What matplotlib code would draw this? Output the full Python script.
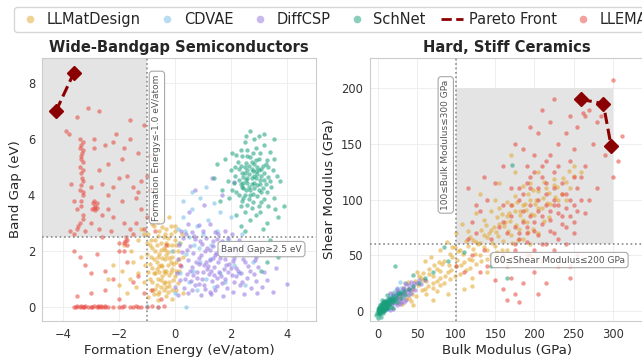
import matplotlib
matplotlib.use("Agg")
import matplotlib.pyplot as plt
from matplotlib.lines import Line2D
import numpy as np

# ---------------- data ----------------
series = ["LLMatDesign", "CDVAE", "DiffCSP", "SchNet", "LLEMA"]
colors = {"LLMatDesign": "#E2A62A", "CDVAE": "#72BDE8", "DiffCSP": "#9373DF",
          "SchNet": "#17A07A", "LLEMA": "#E8453C"}
pareto_color = "#8B0000"

# Left panel: (formation energy eV/atom, band gap eV)
gap_llmatdesign = [(-0.95,2.6),(-0.9,2.2),(-0.85,1.8),(-0.8,1.4),(-0.9,1.0),(-0.85,0.6),(-0.75,2.9),(-0.7,2.4),
    (-0.7,2.0),(-0.65,1.6),(-0.7,1.2),(-0.65,0.8),(-0.6,0.45),(-0.55,2.7),(-0.5,2.3),(-0.55,1.9),(-0.5,1.5),
    (-0.45,1.1),(-0.5,0.7),(-0.4,2.5),(-0.4,2.1),(-0.35,1.7),(-0.4,1.3),(-0.35,0.9),(-0.3,2.8),(-0.3,2.3),
    (-0.25,1.95),(-0.25,1.5),(-0.2,1.15),(-0.2,0.75),(-0.15,2.6),(-0.1,2.2),(-0.1,1.8),(-0.1,1.35),(-0.05,0.95),
    (0.0,2.9),(0.0,2.4),(0.05,1.6),(0.0,1.1),(0.05,0.6),(0.1,2.0),(0.15,1.3),(-0.6,3.05),(-0.45,3.1),(-0.2,3.2),
    (-0.8,2.95),(-1.0,2.3),(-1.05,1.5),(-1.1,0.9),(-1.2,1.8),(-1.3,1.2),(-1.4,0.7),(-1.5,1.6),(-1.6,1.0),
    (-1.7,0.5),(-1.9,1.3),(-2.0,0.8),(-2.2,1.5),(-1.3,2.4),(-1.2,2.8),(-0.95,0.35),(-0.6,0.25),(-0.3,0.4),
    (-0.1,0.3),(0.3,0.5),(0.25,2.6),(0.3,1.8),(-0.55,1.25),(-0.45,1.75),(-0.65,2.2),(-0.35,2.05),(-0.25,2.45),
    (-0.75,1.7),(-0.15,1.6),(-0.3,1.3),(-0.6,1.0),(-0.4,0.6),(-0.8,0.9),(-0.2,0.9),(-0.05,2.0),(-1.8,2.2),
    (-1.55,2.0),(-2.4,1.0),(-1.1,2.6),
    (-0.85,2.4),(-0.8,2.1),(-0.75,1.2),(-0.7,0.65),(-0.6,2.55),(-0.6,1.8),(-0.55,1.45),(-0.5,0.95),(-0.45,2.85),
    (-0.45,1.45),(-0.4,0.85),(-0.35,2.6),(-0.35,1.2),(-0.3,1.85),(-0.3,0.7),(-0.25,2.2),(-0.2,1.75),(-0.15,1.25),
    (-0.15,2.9),(-0.1,0.6),(-0.05,1.55),(0.0,2.7),(0.05,2.2),(0.05,1.3),(0.1,0.85),(-0.65,1.35),(-0.5,2.05),
    (-0.9,1.55),(-0.95,1.25),(-1.0,1.9),(-0.75,0.45),(-0.55,0.55),(-0.25,0.55),(0.15,1.7),(0.2,2.3)]
gap_cdvae = [(0.1,2.8),(0.3,3.2),(0.5,2.5),(0.6,3.5),(0.8,2.9),(0.4,1.9),(0.7,2.2),(1.0,2.6),(1.2,3.1),
    (0.9,1.6),(1.3,2.2),(1.5,2.7),(1.7,1.9),(1.9,2.4),(2.1,1.5),(0.2,1.2),(0.5,0.9),(0.8,0.6),(1.1,1.0),
    (1.4,0.7),(1.8,0.9),(2.3,1.2),(2.5,0.8),(0.0,0.5),(-0.1,2.0),(0.3,3.8),(0.9,3.9),(1.6,3.4),(2.0,3.2),
    (2.4,2.6),(-1.0,0.05),(-0.6,0.0),(0.4,0.0),(0.6,4.1),(1.1,4.3),(1.4,3.7),(2.6,2.0),(2.8,1.6),(0.15,2.3),
    (0.65,1.3),(1.25,1.7),(1.6,1.2),(2.0,2.0),(0.35,2.7),(0.85,2.1)]
gap_diffcsp = [(0.12,0.42),(0.48,0.5),(0.93,0.44),(1.31,0.47),(1.72,0.41),(2.08,0.52),(2.47,0.46),(2.93,0.49),
    (0.02,0.73),(0.34,0.68),(0.71,0.77),(1.08,0.66),(1.52,0.74),(1.87,0.69),(2.33,0.78),(2.71,0.67),(3.12,0.72),
    (0.18,0.97),(0.57,0.92),(0.96,1.01),(1.33,0.93),(1.78,0.99),(2.12,0.91),(2.58,1.02),(2.91,0.94),(3.28,0.98),
    (0.07,1.22),(0.43,1.17),(0.79,1.25),(1.22,1.19),(1.58,1.24),(2.03,1.16),(2.38,1.23),(2.82,1.18),(3.18,1.26),
    (0.23,1.47),(0.62,1.42),(1.03,1.5),(1.41,1.43),(1.83,1.49),(2.18,1.41),(2.63,1.48),(2.97,1.44),
    (0.11,1.72),(0.47,1.67),(0.88,1.74),(1.27,1.69),(1.63,1.75),(2.07,1.66),(2.43,1.73),(2.87,1.68),
    (0.27,1.96),(0.66,1.92),(1.07,1.99),(1.46,1.93),(1.86,1.98),(2.23,1.91),(2.62,1.97),
    (0.16,2.22),(0.53,2.17),(0.97,2.24),(1.36,2.18),(1.77,2.23),(2.13,2.16),(2.52,2.21),
    (0.31,2.46),(0.72,2.42),(1.12,2.48),(1.52,2.43),(1.92,2.47),(2.28,2.41),
    (0.22,2.71),(0.63,2.67),(1.02,2.73),(1.43,2.68),(1.81,2.72),(0.46,2.96),(0.87,2.92),(1.26,2.98),
    (0.52,3.38),(1.04,3.66),(1.68,4.02),(2.12,4.48),(1.33,4.61),(0.73,4.18),(3.52,0.52),(4.02,0.83),
    (3.61,1.38),(1.15,1.35),(1.45,1.85),(0.85,1.55),(1.65,1.1),(1.95,1.55),(1.25,2.05),(0.65,1.15),(2.25,1.3),
    (0.35,1.0),(0.55,1.3),(0.75,1.6),(0.95,1.85),(1.15,2.1),(1.35,2.35),(1.55,2.6),(0.45,2.05),(0.7,2.55),
    (0.9,2.35),(1.1,1.6),(1.3,1.3),(1.5,1.05),(1.7,0.85),(1.9,1.25),(2.1,1.75),(2.3,2.05),(2.5,1.6),(2.7,1.3),
    (2.9,1.8),(1.05,0.8),(1.25,0.55),(1.45,0.62),(0.85,0.82),(0.6,0.6),(1.6,2.05),(1.8,1.7),(2.0,1.4),(2.2,1.1),
    (2.4,0.9),(1.4,1.15),(1.2,1.45),(1.0,1.25),(0.8,1.05),(1.55,1.6),(1.75,1.35),(1.35,1.75),(1.7,2.35),
    (2.05,2.6),(0.4,2.6)]
gap_schnet = [(2.2,4.1),(2.35,4.4),(2.5,4.0),(2.65,4.3),(2.8,4.05),(2.95,4.35),(3.1,4.1),(3.25,4.4),
    (2.15,4.7),(2.3,4.95),(2.45,4.65),(2.6,4.9),(2.75,4.6),(2.9,4.85),(3.05,4.55),(3.2,4.8),(3.35,4.65),
    (2.25,5.2),(2.4,5.4),(2.55,5.15),(2.7,5.35),(2.85,5.1),(3.0,5.3),(3.15,5.05),(3.3,5.25),
    (2.4,3.8),(2.6,3.65),(2.8,3.75),(3.0,3.6),(3.2,3.85),(2.5,3.4),(2.9,3.3),(2.7,3.1),
    (1.9,4.5),(2.0,4.9),(2.05,4.2),(3.45,4.3),(3.5,4.9),(3.55,3.9),(3.6,3.5),(2.6,5.6),(2.9,5.7),(2.5,5.9),
    (3.2,5.8),(3.4,5.55),(3.0,6.1),(2.7,6.3),(3.55,6.0),(1.8,5.3),(1.7,4.2),(1.6,3.8),(2.2,3.3),(3.7,3.2),
    (3.3,3.0),(2.5,2.7),(3.15,2.8),(3.75,4.5),(3.4,2.4),(3.9,3.6),(3.6,2.1),(3.3,1.6),(3.1,1.3),(3.7,1.8),
    (2.35,2.9),(1.4,4.6),(1.5,5.1),(2.45,4.25),(2.85,4.45),(2.65,4.75),(2.95,5.0),(2.55,4.55),(3.1,4.7),
    (2.75,4.95),(2.7,4.2),(3.0,4.2),(2.4,4.8),
    (2.3,4.55),(2.45,4.45),(2.6,4.6),(2.75,4.4),(2.9,4.6),(3.05,4.4),(3.2,4.55),(2.35,5.05),(2.5,5.0),
    (2.65,5.05),(2.8,4.85),(2.95,4.75),(3.1,4.95),(3.25,5.1),(2.4,4.3),(2.55,4.2),(2.7,4.0),(2.85,4.25),
    (3.15,4.25),(3.3,4.1),(2.3,4.0),(2.45,3.9),(2.65,3.85),(2.95,3.95),(3.1,3.75),(2.6,5.4),(2.8,5.5),
    (3.05,5.5),(2.35,5.6),(2.2,5.45),(3.35,5.0),(3.4,4.5),(2.1,4.45),(2.15,5.0),(2.75,5.2),(2.9,5.25),
    (2.5,4.8),(2.85,4.7),(3.0,4.9),(2.6,4.45),(2.75,3.55),(3.05,3.4),(2.35,3.6),(3.35,3.6),(1.95,3.9),
    (3.55,5.3),(3.65,4.7),(2.05,5.5),(3.2,6.2),(2.55,6.1),(2.85,6.0)]
gap_llema = [(-3.6,0.0),(-3.5,0.02),(-3.4,0.0),(-3.35,0.03),(-3.3,0.0),(-3.2,0.02),(-3.1,0.0),(-3.0,0.0),
    (-2.9,0.03),(-2.8,0.0),(-2.75,0.02),(-2.7,0.0),(-2.6,0.0),(-2.5,0.02),(-2.4,0.0),(-2.2,0.0),(-2.0,0.0),
    (-1.8,0.02),(-1.6,0.0),(-1.5,0.0),(-1.4,0.02),(-1.3,0.0),(-1.2,0.0),(-0.6,0.0),(-0.4,0.05),
    (-3.9,6.3),(-3.8,6.2),(-3.5,6.8),(-3.1,7.1),(-2.7,7.0),(-1.6,6.7),(-1.1,6.5),(-3.4,6.0),(-3.35,5.8),
    (-3.3,5.6),(-3.35,5.4),(-3.3,5.2),(-3.4,5.0),(-3.35,4.8),(-3.3,4.5),(-3.4,4.2),(-3.3,4.0),(-3.35,3.8),
    (-3.5,3.5),(-3.3,3.3),(-3.4,3.0),(-3.5,2.8),(-2.9,6.0),(-2.9,5.7),(-2.5,5.8),(-2.2,5.9),(-1.8,5.7),
    (-2.9,3.8),(-2.85,3.6),(-2.95,3.5),(-2.8,3.7),(-3.0,4.3),(-2.6,4.4),(-2.4,4.0),(-2.0,4.6),(-1.7,4.7),
    (-1.5,4.3),(-1.2,4.5),(-1.0,4.7),(-0.9,4.2),(-2.2,3.2),(-1.8,3.0),(-1.6,2.8),(-1.5,2.6),(-1.2,3.5),
    (-1.0,3.2),(-3.7,4.4),(-3.6,3.8),(-3.75,2.7),(-3.6,2.0),(-3.4,1.8),(-3.2,1.5),(-3.0,1.2),(-2.8,1.9),
    (-2.5,1.3),(-2.2,1.0),(-2.0,2.3),(-1.8,2.0),(-1.7,1.6),(-1.5,0.9),(-1.3,1.1),(-1.1,0.5),(-0.8,0.6),
    (-0.5,0.3),(-3.5,0.4),(-3.0,0.5),(-2.5,0.6),(-2.0,0.3),(-2.3,2.7),(-2.6,2.5),(-1.9,3.8),(-1.4,3.9),
    (-2.7,4.9),(-2.4,5.1),(-1.9,5.3),(-1.3,5.5),(-0.9,5.4),(-1.6,6.0),(-2.1,6.2),(-0.8,3.5),(-0.7,2.7),
    (-0.3,2.2),(0.2,1.5),(-2.6,3.3),(-2.0,2.0),(-1.7,2.4),(-1.75,2.5),(-1.8,2.3),
    (-3.3,5.9),(-3.38,5.7),(-3.32,5.5),(-3.36,5.3),(-3.28,4.9),(-3.33,4.6),(-3.37,4.35),(-3.3,4.1),
    (-3.35,3.6),(-3.28,3.15),(-3.45,2.9),(-2.88,3.55),(-2.92,3.7),(-2.85,3.45),(-2.8,3.55),(-1.78,2.35),
    (-1.72,2.2),(-3.6,2.6),(-3.2,2.7),(-3.0,3.0),(-2.7,2.8),(-2.4,3.5),(-2.2,4.3),(-1.4,3.0),(-1.1,2.8),
    (-1.3,4.1),(-2.5,0.0),(-3.55,0.0),(-3.25,0.0),(-2.95,0.0),(-2.65,0.02),(-1.9,0.0),(-1.0,0.0),(-0.8,0.02)]
gap_pareto_x = [-4.25, -3.62]
gap_pareto_y = [7.0, 8.35]

# Right panel: (bulk modulus GPa, shear modulus GPa)
mod_llmatdesign = [(15,5),(21,11),(26,7),(31,15),(36,11),(41,19),(44,15),(51,23),(56,19),(61,27),(64,22),
    (71,31),(76,27),(79,36),(86,31),(91,41),(94,37),(101,46),(106,41),(109,51),(116,47),(121,56),(124,51),
    (131,61),(136,57),(139,66),(146,61),(151,71),(154,67),(161,76),(166,72),(169,81),(176,77),(181,86),
    (186,82),(189,91),(196,87),(201,96),(204,92),(211,101),(216,97),(219,106),(226,102),(229,111),(241,116),
    (251,121),(244,126),(236,119),(31,6),(42,9),(49,13),(62,15),(71,21),(79,23),(92,29),(99,31),(112,37),
    (118,39),(132,45),(139,47),(152,53),(158,55),(172,61),(179,64),(192,71),(198,74),(212,81),(219,84),
    (19,16),(32,21),(39,26),(52,31),(58,34),(72,41),(78,44),(92,51),(99,57),(112,63),(118,66),(132,73),
    (138,77),(152,84),(158,87),(172,95),(178,98),(192,105),(198,109),(212,116),(60,45),(80,55),(100,70),
    (120,30),(140,35),(160,45),(175,125),(150,100),(130,105),(90,15),(110,20),(70,10),(50,35),(45,5),
    (35,25),(185,112),(205,125),(225,118),(170,140),(155,115),(240,100),(195,60),(125,88),(145,90),
    (165,98),(88,62),(68,48),(108,78),(128,60),(148,75),(168,88),(188,96),(82,42),(102,54),(122,64),
    (142,70),(162,80),(182,90),(202,100),(58,28),(48,27),(38,20),(28,12),(24,18),(18,8),(12,9),(10,3),
    (55,30),(65,33),(75,38),(85,45),(95,48),(105,55),(115,58),(125,62),(135,68),(145,73),(155,78),(165,85),
    (175,90),(185,95),(195,100),(205,108),(215,110),(225,113),(60,20),(70,25),(80,30),(90,35),(100,40),
    (110,44),(120,46),(130,50),(140,55),(150,58),(160,63),(170,68),(180,74),(190,80),(200,86),(210,92),
    (220,96),(230,100),(45,20),(35,15),(25,12),(40,12),(65,38),(95,57),(115,72),(135,82),(155,92),(175,103),
    (195,115),(85,25),(105,33),(125,42),(145,50),(165,55),(185,65),(205,70),(245,110),(235,105),(250,130),
    (260,125),(120,22),(75,18)]
mod_cdvae = [(3,2),(6,4),(9,6),(12,8),(15,9),(18,12),(21,14),(24,16),(27,18),(30,21),(8,3),(14,5),(20,8),
    (26,10),(32,14),(10,10),(16,14),(22,18),(35,25),(5,6),(2,0),(38,20),(40,15),(28,26),
    (4,3),(7,5),(11,7),(14,10),(17,11),(19,16),(23,15),(25,21),(13,2),(17,6)]
mod_diffcsp = [(10,5),(15,8),(20,10),(25,12),(30,15),(35,18),(40,20),(45,22),(50,25),(12,3),(18,6),(22,7),
    (28,10),(32,12),(38,14),(42,16),(48,19),(55,24),(8,8),(14,12),(20,14),(26,17),(32,20),(36,24),(42,26),
    (30,8),(36,10),(25,5),(20,2),(15,1),(5,2),(8,0),(60,28),(16,16),(24,20),
    (18,9),(22,11),(27,13),(33,16),(39,18),(44,20),(23,14),(29,16),(34,21),(40,23),(46,25),(52,28),(17,11),
    (13,6),(11,8),(28,6),(34,8)]
mod_schnet = [(0,0),(2,1),(4,2),(6,3),(8,2),(10,4),(12,6),(14,5),(16,7),(18,9),(20,8),(3,-3),(5,-1),(7,0),
    (9,1),(11,2),(13,3),(1,3),(3,5),(5,6),(7,7),(9,8),(11,9),(13,11),(15,12),(-2,-4),(0,-6),(2,-2),(4,-5),
    (6,-2),(8,5),(10,7),(15,10),(17,4),(19,12),(22,10),(24,14),(25,8),(28,15),(30,12),(33,18),(35,14),
    (40,20),(45,22),(22,40),(5,10),(12,14),(20,3),(1,1),(3,2),(5,3),(7,4),(2,4),(4,6),(6,8),(8,9),
    (85,57),(110,53),(165,30),(172,131),(60,30),(52,25),(45,32),(70,35),(90,45),(145,40),
    (1,0),(3,1),(5,2),(7,3),(9,5),(11,5),(13,7),(2,-1),(4,0),(6,1),(8,3),(10,3),(12,4),(14,8),(16,10),
    (18,11),(0,2),(2,3),(4,4),(6,5),(8,6),(10,8),(-1,-2),(1,-3),(3,-1),(20,13),(23,12),(26,16),(30,17)]
mod_llema = [(180,70),(190,75),(200,80),(210,85),(220,90),(230,95),(185,90),(195,95),(205,100),(215,105),
    (225,110),(235,115),(175,60),(190,62),(205,68),(220,72),(235,78),(245,85),(170,85),(180,100),(195,110),
    (210,120),(225,125),(240,105),(250,95),(255,110),(200,55),(215,60),(230,65),(160,50),(150,45),(140,40),
    (130,35),(165,40),(180,45),(195,50),(210,45),(225,55),(240,60),(170,30),(185,25),(200,35),(150,28),
    (160,20),(175,15),(135,55),(145,65),(155,75),(160,95),(170,110),(150,115),(140,100),(130,90),(120,80),
    (115,65),(125,70),(190,130),(200,140),(215,135),(230,150),(240,160),(255,165),(265,175),(270,180),
    (262,178),(280,170),(245,175),(220,170),(205,160),(195,165),(250,145),(265,130),(275,150),(285,175),
    (300,207),(312,157),(307,135),(260,120),(270,100),(250,70),(255,50),(245,30),(230,40),(215,25),
    (205,15),(180,8),(165,10),(110,35),(120,50),(100,40),(125,95),(135,120),(115,110),(160,130),(175,150),
    (185,145),(225,190),(210,180),(300,120),(290,140),(280,110),(265,88),(245,40),
    (175,75),(185,80),(195,85),(205,90),(215,95),(225,100),(235,105),(180,65),(190,70),(200,72),(210,78),
    (220,82),(230,88),(240,92),(245,100),(185,105),(195,120),(205,110),(215,115),(225,95),(235,85),(240,75),
    (250,80),(255,90),(260,100),(230,130),(220,140),(210,130),(200,125),(190,115),(180,110),(170,95),
    (165,70),(160,80),(175,55),(190,50),(210,60),(225,70),(250,120),(245,135)]
mod_pareto_x = [259, 288, 298]
mod_pareto_y = [190, 186, 148]

gap_data = {"LLMatDesign": gap_llmatdesign, "CDVAE": gap_cdvae, "DiffCSP": gap_diffcsp,
            "SchNet": gap_schnet, "LLEMA": gap_llema}
mod_data = {"LLMatDesign": mod_llmatdesign, "CDVAE": mod_cdvae, "DiffCSP": mod_diffcsp,
            "SchNet": mod_schnet, "LLEMA": mod_llema}

# ---------------- style ----------------
plt.rcParams['font.family'] = ['DejaVu Sans']
text_c = "#262626"
tick_c = "#333333"

fig = plt.figure(figsize=(6.42, 3.57), dpi=100)
ax1 = fig.add_axes([42/642, 36/357, 274/642, 263/357])
ax2 = fig.add_axes([370/642, 36/357, 274/642, 263/357])

def style(ax):
    ax.set_facecolor("white")
    ax.grid(True, color="#EBEBEB", lw=0.6, zorder=0)
    ax.set_axisbelow(True)
    for s in ax.spines.values():
        s.set_color("#CCCCCC")
        s.set_linewidth(0.8)
    ax.tick_params(length=0, labelsize=8.3, colors=tick_c, pad=5)

def scatter_all(ax, data):
    for name in series:
        pts = np.array(data[name], dtype=float)
        ax.scatter(pts[:, 0], pts[:, 1], s=10, color=colors[name], alpha=0.55,
                   linewidths=0, zorder=3)

# ---- left panel
style(ax1)
ax1.set_xlim(-4.75, 5.05)
ax1.set_ylim(-0.5, 8.9)
ax1.fill_between([-4.75, -1.0], 2.5, 8.9, color="#E4E4E4", zorder=1, lw=0)
scatter_all(ax1, gap_data)
ax1.axvline(-1.0, color="#8A8A8A", ls=":", lw=1.2, zorder=4)
ax1.axhline(2.5, color="#8A8A8A", ls=":", lw=1.2, zorder=4)
ax1.plot(gap_pareto_x, gap_pareto_y, color=pareto_color, ls="--", lw=2.2,
         marker="D", markersize=7.5, zorder=6)
bbox = dict(boxstyle="round,pad=0.35", fc="white", ec="#9A9A9A", alpha=0.85, lw=0.8)
ax1.text(-0.64, 5.7, "Formation Energy≤-1.0 eV/atom", rotation=90, ha="center", va="center",
         fontsize=6.5, color="#555555", bbox=bbox, zorder=7)
ax1.text(3.1, 2.07, "Band Gap≥2.5 eV", ha="center", va="center",
         fontsize=6.5, color="#555555", bbox=bbox, zorder=7)
ax1.set_xticks([-4, -2, 0, 2, 4])
ax1.set_yticks([0, 2, 4, 6, 8])
ax1.set_xlabel("Formation Energy (eV/atom)", fontsize=9.6, color=text_c, labelpad=2)
ax1.set_ylabel("Band Gap (eV)", fontsize=9.6, color=text_c, labelpad=4)
ax1.set_title("Wide-Bandgap Semiconductors", fontsize=10.6, fontweight="bold", color=text_c, pad=4)

# ---- right panel
style(ax2)
ax2.set_xlim(-10, 340)
ax2.set_ylim(-9, 227)
ax2.fill_between([100, 300], 60, 200, color="#E4E4E4", zorder=1, lw=0)
scatter_all(ax2, mod_data)
ax2.axvline(100, color="#8A8A8A", ls=":", lw=1.2, zorder=4)
ax2.axhline(60, color="#8A8A8A", ls=":", lw=1.2, zorder=4)
ax2.plot(mod_pareto_x, mod_pareto_y, color=pareto_color, ls="--", lw=2.2,
         marker="D", markersize=7.5, zorder=6)
ax2.text(86.8, 149, "100≤Bulk Modulus≤300 GPa", rotation=90, ha="center", va="center",
         fontsize=6.5, color="#555555", bbox=bbox, zorder=7)
ax2.text(232, 45.7, "60≤Shear Modulus≤200 GPa", ha="center", va="center",
         fontsize=6.5, color="#555555", bbox=bbox, zorder=7)
ax2.set_xticks([0, 50, 100, 150, 200, 250, 300])
ax2.set_yticks([0, 50, 100, 150, 200])
ax2.set_xlabel("Bulk Modulus (GPa)", fontsize=9.6, color=text_c, labelpad=2)
ax2.set_ylabel("Shear Modulus (GPa)", fontsize=9.6, color=text_c, labelpad=4)
ax2.set_title("Hard, Stiff Ceramics", fontsize=10.6, fontweight="bold", color=text_c, pad=4)

# ---- legend
legend_order = ["LLMatDesign", "CDVAE", "DiffCSP", "SchNet", "Pareto Front", "LLEMA"]
handles = []
for name in legend_order:
    if name == "Pareto Front":
        handles.append(Line2D([], [], color=pareto_color, ls="--", lw=2))
    else:
        handles.append(Line2D([], [], ls="", marker="o", markersize=5.5, color=colors[name],
                              alpha=0.5, markeredgewidth=0))
fig.legend(handles, legend_order, loc="upper left", bbox_to_anchor=(14/642, 1 - 7/357),
           bbox_transform=fig.transFigure, ncol=6, fontsize=10.5, frameon=True,
           fancybox=True, edgecolor="#CCCCCC", handlelength=1.5, handletextpad=0.4,
           columnspacing=1.05, borderaxespad=0, borderpad=0.35, labelcolor=text_c)

fig.savefig("out.png", dpi=100)
